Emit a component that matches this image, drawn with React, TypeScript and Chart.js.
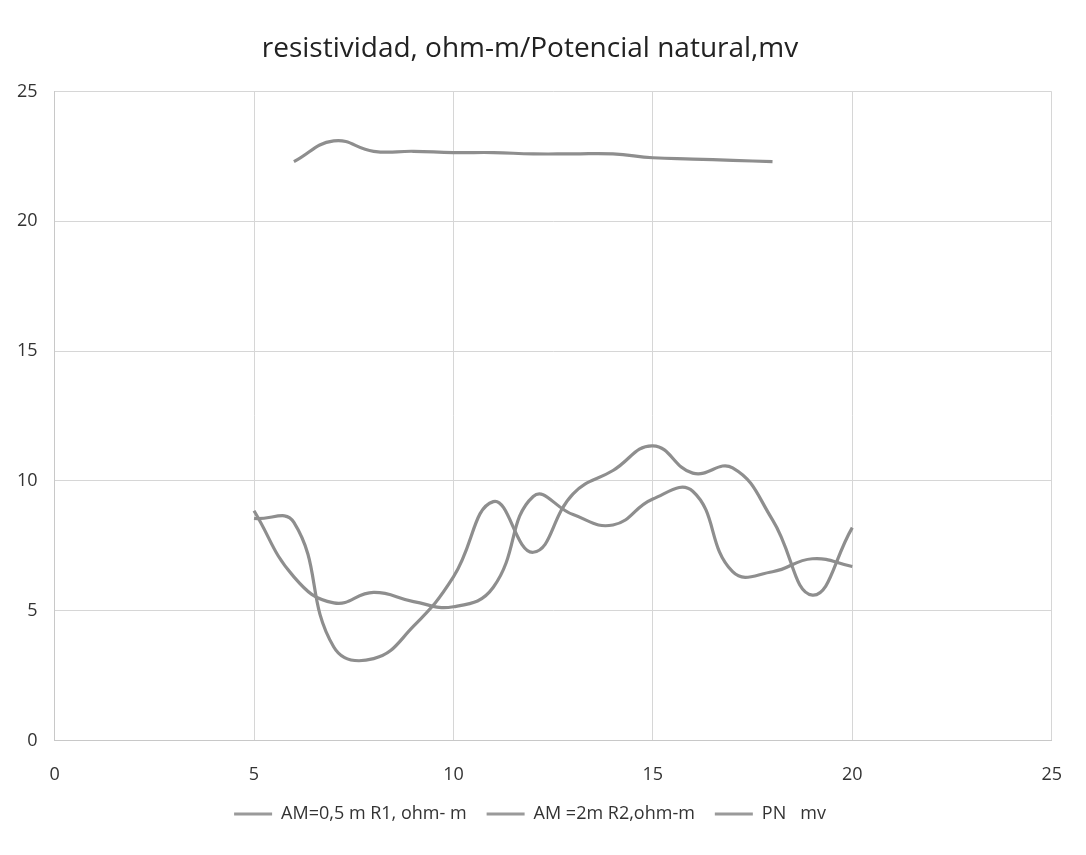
import React, { useEffect, useRef } from "react";
import { Chart, registerables } from "chart.js";

Chart.register(...registerables);

const xR1 = [5, 6, 7, 8, 9, 10, 11, 12, 13, 14, 15, 16, 17, 18, 19, 20];
const yR1 = [8.85, 6.3, 5.3, 5.7, 5.35, 5.15, 5.9, 9.4, 8.7, 8.3, 9.3, 9.6, 6.5, 6.5, 7.0, 6.7];

const xR2 = [5, 6, 7, 8, 9, 10, 11, 12, 13, 14, 15, 16, 17, 18, 19, 20];
const yR2 = [8.55, 8.4, 3.6, 3.15, 4.4, 6.3, 9.2, 7.25, 9.5, 10.4, 11.35, 10.3, 10.5, 8.5, 5.6, 8.2];

const xPN = [6, 7, 8, 9, 10, 11, 12, 13, 14, 15, 16, 17, 18];
const yPN = [22.3, 23.1, 22.7, 22.7, 22.65, 22.65, 22.6, 22.6, 22.6, 22.45, 22.4, 22.35, 22.3];

const seriesNames = ["AM=0,5 m R1, ohm- m", "AM =2m R2,ohm-m", "PN   mv"];
const titleText = "resistividad, ohm-m/Potencial natural,mv";

const toPoints = (xs: number[], ys: number[]) => xs.map((x, i) => ({ x, y: ys[i] }));

export default function App() {
  const ref = useRef<HTMLCanvasElement | null>(null);

  useEffect(() => {
    if (!ref.current) return;
    const font = "'Open Sans', sans-serif";
    const grey = "#8e8e8e";
    const chart = new Chart(ref.current, {
      type: "scatter",
      data: {
        datasets: [
          { label: seriesNames[0], data: toPoints(xR1, yR1) },
          { label: seriesNames[1], data: toPoints(xR2, yR2) },
          { label: seriesNames[2], data: toPoints(xPN, yPN) },
        ].map((d) => ({
          ...d,
          showLine: true,
          borderColor: grey,
          backgroundColor: grey,
          borderWidth: 3.2,
          pointRadius: 0,
          tension: 0.45,
        })),
      },
      options: {
        responsive: false,
        animation: false,
        layout: { padding: { left: 0, right: 26, top: 14, bottom: 22 } },
        plugins: {
          title: {
            display: true,
            text: titleText,
            color: "#222",
            font: { family: font, size: 28, weight: "normal" },
            padding: { top: 18, bottom: 26 },
          },
          legend: {
            position: "bottom",
            labels: {
              color: "#333",
              font: { family: font, size: 18 },
              boxWidth: 38,
              boxHeight: 3,
              padding: 20,
              generateLabels: (c: any) =>
                Chart.defaults.plugins.legend.labels.generateLabels(c).map((l: any) => ({
                  ...l,
                  lineWidth: 0,
                  fillStyle: "#9a9a9a",
                })),
            },
          },
          tooltip: { enabled: false },
        },
        scales: {
          x: {
            type: "linear",
            min: 0,
            max: 25,
            ticks: { stepSize: 5, color: "#333", font: { family: font, size: 18 }, padding: 24 },
            grid: { color: "#d6d6d6", lineWidth: 1, drawTicks: false },
            border: { color: "#c8c8c8" },
            afterFit: (s: any) => {
              s.height -= 25;
            },
          },
          y: {
            type: "linear",
            min: 0,
            max: 25,
            ticks: { stepSize: 5, color: "#333", font: { family: font, size: 18 }, padding: 17 },
            grid: { color: "#d6d6d6", lineWidth: 1, drawTicks: false },
            border: { color: "#c8c8c8" },
          },
        },
      },
    });
    return () => chart.destroy();
  }, []);

  return (
    <div style={{ position: "fixed", left: 0, top: 0, width: 1086, height: 855, background: "#fff" }}>
      <canvas ref={ref} width={1086} height={855} />
    </div>
  );
}
